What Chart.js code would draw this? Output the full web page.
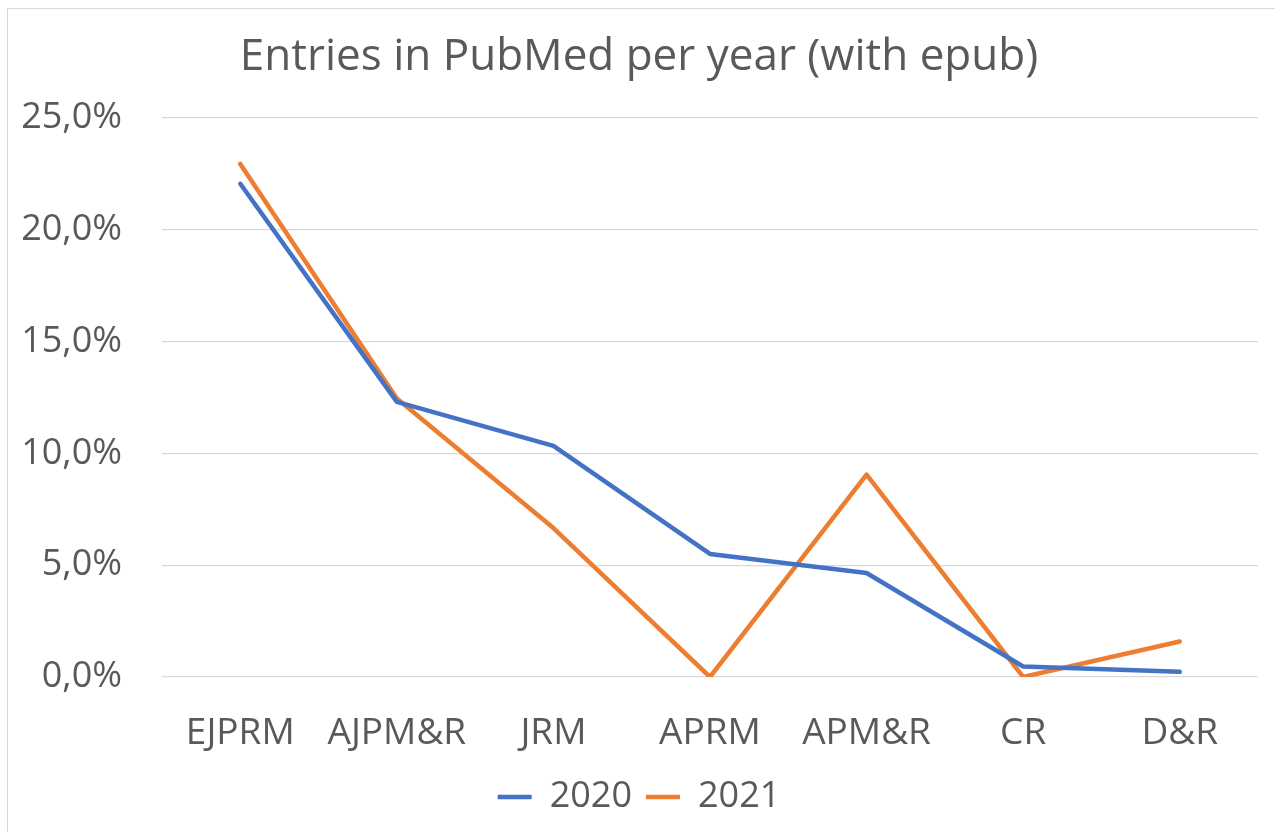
<!DOCTYPE html>
<html>
<head>
<meta charset="utf-8">
<script src="https://cdn.jsdelivr.net/npm/chart.js@4"></script>
<style>
  html, body { margin: 0; padding: 0; background: #fff; overflow: hidden; width: 1275px; height: 832px; }
  #box { position: absolute; left: 7px; top: 8px; width: 1268px; height: 823px; border: 1px solid #d9d9d9; }
  canvas { display: block; }
</style>
</head>
<body>
<div id="box"><canvas id="pubmedChart" width="1268" height="823"></canvas></div>
<script>
// journals on the x axis
const journals = ["EJPRM", "AJPM&R", "JRM", "APRM", "APM&R", "CR", "D&R"];
// share of entries (%)
const share2020 = [22.05, 12.3, 10.33, 5.5, 4.65, 0.47, 0.23];
const share2021 = [22.94, 12.45, 6.66, 0.0, 9.05, 0.0, 1.59];
const seriesLabels = ["2020", "2021"];
const yTicks = [0, 5, 10, 15, 20, 25];

const blue = "#4472C4";
const orange = "#ED7D31";
const textGrey = "#595959";
const fontFamily = "'Open Sans', 'Noto Sans', sans-serif";

const ctx = document.getElementById("pubmedChart");

new Chart(ctx, {
  type: "line",
  data: {
    labels: journals,
    datasets: [
      {
        label: seriesLabels[0],
        data: share2020,
        borderColor: blue,
        backgroundColor: blue,
        borderWidth: 4.5,
        pointRadius: 0,
        tension: 0,
        borderCapStyle: "round",
        borderJoinStyle: "round",
      },
      {
        label: seriesLabels[1],
        data: share2021,
        borderColor: orange,
        backgroundColor: orange,
        borderWidth: 4.5,
        pointRadius: 0,
        tension: 0,
        borderCapStyle: "round",
        borderJoinStyle: "round",
      },
    ],
  },
  options: {
    responsive: false,
    animation: false,
    layout: {
      padding: { left: 12, right: 18, top: 0, bottom: 7 },
    },
    plugins: {
      title: {
        display: true,
        text: "Entries in PubMed per year (with epub)",
        color: textGrey,
        font: { family: fontFamily, size: 44, weight: "normal" },
        padding: { top: 22, bottom: 34 },
      },
      legend: {
        position: "bottom",
        labels: {
          color: textGrey,
          font: { family: fontFamily, size: 36 },
          usePointStyle: true,
          pointStyle: "line",
          pointStyleWidth: 34,
          padding: 14,
        },
      },
      tooltip: { enabled: false },
    },
    scales: {
      x: {
        offset: true,
        grid: { display: false },
        border: { display: false },
        afterFit: (scale) => { scale.height = 88; },
        ticks: {
          color: textGrey,
          font: { family: fontFamily, size: 37 },
          padding: 26,
          maxRotation: 0,
          autoSkip: false,
        },
      },
      y: {
        min: 0,
        max: 25,
        grid: { color: "#d9d9d9", lineWidth: 1.3, drawTicks: false },
        border: { display: false },
        afterFit: (scale) => { scale.width = 142; },
        afterBuildTicks: (scale) => { scale.ticks = yTicks.map((v) => ({ value: v })); },
        ticks: {
          color: textGrey,
          font: { family: fontFamily, size: 36 },
          padding: 40,
          callback: (v) => v.toFixed(1).replace(".", ",") + "%",
        },
      },
    },
  },
});
</script>
</body>
</html>
